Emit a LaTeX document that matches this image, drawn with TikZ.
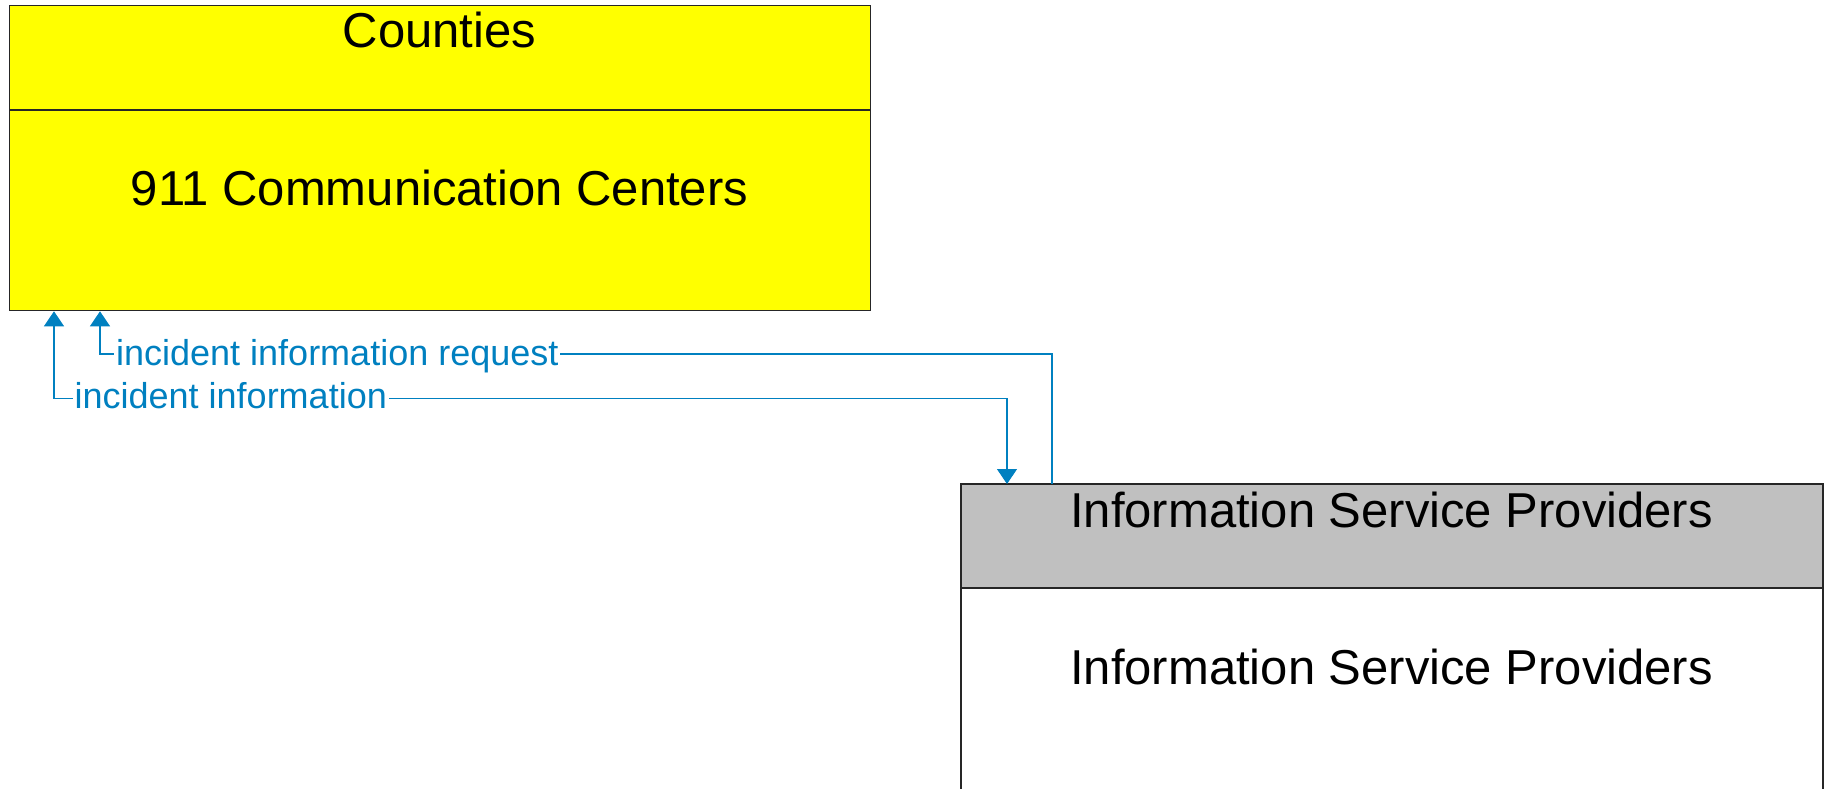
\documentclass[tikz,border=0pt]{standalone}
\usepackage{fontspec}
\setmainfont{Liberation Sans}
\usetikzlibrary{arrows.meta}
\definecolor{flowblue}{RGB}{0,128,192}
\definecolor{hdrgray}{RGB}{192,192,192}
\definecolor{boxyellow}{RGB}{255,255,0}
\tikzset{
  box/.style={draw=black!85, line width=1.3pt, anchor=north west, inner sep=0pt},
  boxtext/.style={anchor=base, inner sep=0pt, font=\fontsize{49}{58}\selectfont},
  conn/.style={draw=flowblue, line width=1.1pt},
  tip/.tip={Triangle[width=20pt,length=15pt]},
  lbl/.style={anchor=base west, fill=white, text=flowblue, inner xsep=2pt, inner ysep=1pt,
              font=\fontsize{36}{43}\selectfont},
}
\begin{document}
\begin{tikzpicture}[x=1pt, y=-1pt]
\useasboundingbox (0,0) rectangle (1827,789);

% Counties: 911 Communication Centers
\node[box, fill=boxyellow, minimum width=861pt, minimum height=305pt] (counties) at (9,5) {};
\draw[draw=black!85, line width=1.3pt] (counties.west |- 0,110) -- (counties.east |- 0,110);
\node[boxtext] (ctitle) at (439.5,48) {Counties};
\node[boxtext] (cbody) at (439.5,205.5) {911 Communication Centers};

% Information Service Providers
\node[box, fill=white, minimum width=861pt, minimum height=306pt] (isp) at (961,484) {};
\fill[hdrgray] (961,484) rectangle (1822,588);
\draw[draw=black!85, line width=1.3pt] (isp.south west) |- (isp.north east) -- (isp.south east);
\draw[draw=black!85, line width=1.3pt] (isp.west |- 0,588) -- (isp.east |- 0,588);
\node[boxtext] (ititle) at (1391.5,527.5) {Information Service Providers};
\node[boxtext] (ibody) at (1391.5,684) {Information Service Providers};

% flows
\draw[conn, -{tip}] ([xshift=91pt]isp.north west) -- ++(0,-130) -| ([xshift=91pt]counties.south west);
\draw[conn, {tip}-{tip}] ([xshift=45pt]counties.south west) -- ++(0,87) -| ([xshift=46pt]isp.north west);

\node[lbl] (lreq) at (114,365.5) {incident information request};
\node[lbl] (linf) at (72.5,408.5) {incident information};
\end{tikzpicture}
\end{document}
